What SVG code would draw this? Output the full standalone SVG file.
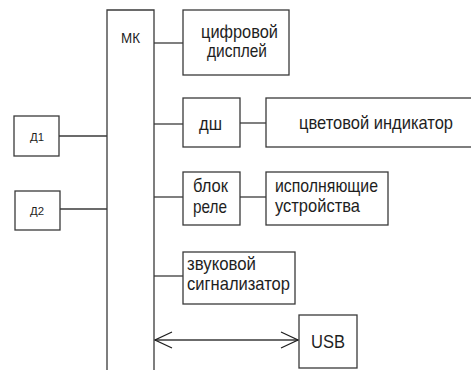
<svg xmlns="http://www.w3.org/2000/svg" width="471" height="370" viewBox="0 0 471 370">
<defs>
<style>
.box{fill:#fff;stroke:#3a3a3a;stroke-width:1.3}
.ln{fill:none;stroke:#3a3a3a;stroke-width:1.3}
.t{font-family:"Liberation Sans",Arial,sans-serif;font-size:19px;fill:#1e1e1e}
.s{font-family:"Liberation Sans",Arial,sans-serif;font-size:11px;fill:#1e1e1e}
</style>
<marker id="ah" viewBox="0 0 20 20" refX="19" refY="10" markerWidth="20" markerHeight="20" markerUnits="userSpaceOnUse" orient="auto-start-reverse">
<path d="M2,2 L19,10 L2,18" fill="none" stroke="#1e1e1e" stroke-width="1.2"/>
</marker>
</defs>
<rect width="471" height="370" fill="#fff"/>
<g id="connectors">
<line class="ln" x1="154" y1="43" x2="183" y2="43"/>
<line class="ln" x1="154" y1="124" x2="183" y2="124"/>
<line class="ln" x1="240" y1="123" x2="266" y2="123"/>
<line class="ln" x1="154" y1="197" x2="183" y2="197"/>
<line class="ln" x1="240" y1="197" x2="266" y2="197"/>
<line class="ln" x1="154" y1="276" x2="183" y2="276"/>
<line class="ln" x1="59" y1="136" x2="107" y2="136"/>
<line class="ln" x1="60" y1="209" x2="107" y2="209"/>
</g>
<g id="mk">
<path class="ln" d="M107,371 V10 H154 V371"/>
<text class="t" x="121" y="43" style="font-size:15px" textLength="19" lengthAdjust="spacingAndGlyphs">МК</text>
</g>
<g id="display">
<rect class="box" x="183" y="10" width="106" height="65"/>
<text class="t" x="201" y="38" textLength="77" lengthAdjust="spacingAndGlyphs">цифровой</text>
<text class="t" x="207" y="57" textLength="60" lengthAdjust="spacingAndGlyphs">дисплей</text>
</g>
<g id="dsh">
<rect class="box" x="183" y="98" width="57" height="49"/>
<text class="t" x="199" y="130" textLength="23" lengthAdjust="spacingAndGlyphs">дш</text>
</g>
<g id="indicator">
<rect class="box" x="266" y="98" width="210" height="49"/>
<text class="t" x="299" y="129" textLength="154" lengthAdjust="spacingAndGlyphs">цветовой индикатор</text>
</g>
<g id="d1">
<rect class="box" x="14" y="116" width="45" height="40"/>
<text class="s" x="30" y="141" textLength="14" lengthAdjust="spacingAndGlyphs">Д1</text>
</g>
<g id="d2">
<rect class="box" x="15" y="191" width="45" height="39"/>
<text class="s" x="30" y="215" textLength="14" lengthAdjust="spacingAndGlyphs">Д2</text>
</g>
<g id="relay">
<rect class="box" x="183" y="172" width="57" height="53"/>
<text class="t" x="193" y="192" textLength="35" lengthAdjust="spacingAndGlyphs">блок</text>
<text class="t" x="193" y="213" textLength="34" lengthAdjust="spacingAndGlyphs">реле</text>
</g>
<g id="actuators">
<rect class="box" x="266" y="172" width="122" height="53"/>
<text class="t" x="275" y="192" textLength="103" lengthAdjust="spacingAndGlyphs">исполняющие</text>
<text class="t" x="275" y="212" textLength="85" lengthAdjust="spacingAndGlyphs">устройства</text>
</g>
<g id="buzzer">
<rect class="box" x="183" y="252" width="112" height="52"/>
<text class="t" x="187" y="270" textLength="69" lengthAdjust="spacingAndGlyphs">звуковой</text>
<text class="t" x="187" y="290" textLength="103" lengthAdjust="spacingAndGlyphs">сигнализатор</text>
</g>
<g id="usb">
<rect class="box" x="299" y="315" width="58" height="53"/>
<text class="t" x="311" y="348" textLength="34" lengthAdjust="spacingAndGlyphs">USB</text>
</g>
<g id="usb-link">
<line class="ln" x1="155" y1="340" x2="298" y2="340" marker-start="url(#ah)" marker-end="url(#ah)"/>
</g>
</svg>
